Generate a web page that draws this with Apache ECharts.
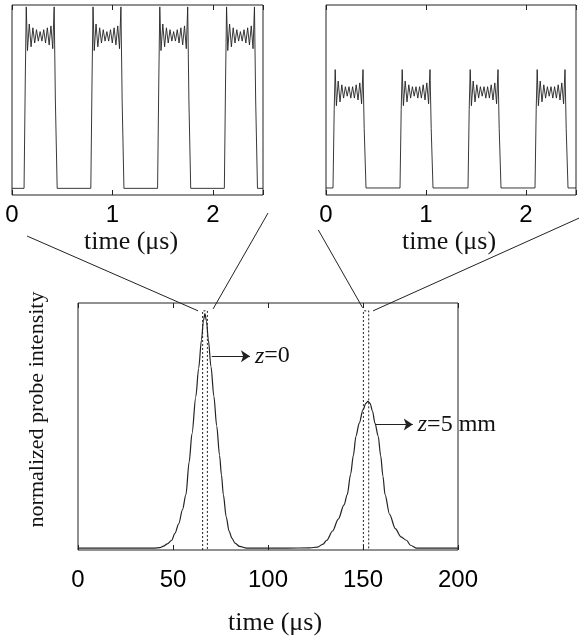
<!DOCTYPE html>
<html>
<head>
<meta charset="utf-8">
<script src="https://cdn.jsdelivr.net/npm/echarts@6/dist/echarts.min.js"></script>
<style>
  html, body { margin: 0; padding: 0; background: #fff; }
  #chart { width: 579px; height: 637px; }
</style>
</head>
<body>
<div id="chart"></div>
<script>
// main trace: probe intensity vs time (us)
var mainTime = [0, 40, 43, 45, 47, 49.3, 51, 53, 55, 56.8, 58.5, 60, 62, 63.5, 65, 66, 66.8, 67.6, 68.6, 70, 71.5, 73, 74.5, 75.5, 76.5, 78, 79.5, 81, 82.6, 85, 88.8,
  110, 122, 126, 129, 130.9, 134, 137, 140, 141.7, 143.5, 144.9, 146.3, 148, 150, 151.5, 152.6, 153.7, 155, 156.3, 158, 159.3, 160.5, 161.6, 164, 167, 170, 172.9, 175, 178.3, 200];
var mainIntensity = [0.008, 0.008, 0.010, 0.016, 0.026, 0.041, 0.07, 0.11, 0.17, 0.233, 0.37, 0.49, 0.645, 0.765, 0.885, 0.965, 0.995, 0.965, 0.885, 0.772, 0.648, 0.523, 0.399, 0.316, 0.233, 0.14, 0.08, 0.05, 0.029, 0.015, 0.008,
  0.008, 0.009, 0.012, 0.025, 0.041, 0.08, 0.13, 0.19, 0.233, 0.32, 0.397, 0.479, 0.534, 0.59, 0.618, 0.626, 0.618, 0.585, 0.534, 0.479, 0.397, 0.31, 0.233, 0.15, 0.09, 0.055, 0.041, 0.02, 0.008, 0.008];
// dashed zoom windows (us) and their top
var windowEdges = [[65.6, 68.1], [150.2, 153.0]];
var windowTop = 1.007;
var mainTicks = [0, 50, 100, 150, 200];

// insets: one pulse shape (offset in us from rise), repeated at the read rise times
var pulseOffsets = [0, 0.012, 0.022, 0.034, 0.052, 0.07, 0.088, 0.106, 0.124, 0.142, 0.16, 0.178, 0.196, 0.214, 0.232, 0.25, 0.268, 0.286, 0.3, 0.312, 0.33];
var pulseZ0 = [0.035, 0.6, 0.99, 0.76, 0.90, 0.78, 0.88, 0.80, 0.87, 0.81, 0.86, 0.81, 0.87, 0.80, 0.88, 0.79, 0.89, 0.77, 0.99, 0.5, 0.035];
var pulseZ5 = [0.037, 0.45, 0.66, 0.47, 0.60, 0.49, 0.58, 0.51, 0.57, 0.52, 0.57, 0.51, 0.57, 0.51, 0.58, 0.50, 0.59, 0.48, 0.66, 0.35, 0.037];
var risesZ0 = [0.12, 0.785, 1.45, 2.115];
var risesZ5 = [0.07, 0.74, 1.42, 2.09];
var baseZ0 = 0.035, baseZ5 = 0.037;

function pulseTrain(rises, shape, base) {
  var pts = [[0, base]];
  rises.forEach(function (r) {
    pulseOffsets.forEach(function (o, i) { pts.push([+(r + o).toFixed(4), shape[i]]); });
  });
  pts.push([2.5, base]);
  return pts;
}

var mainData = mainTime.map(function (t, i) { return [t, mainIntensity[i]]; });

var ink = '#222';
var sans = 'Liberation Sans';
var serif = 'Liberation Serif';

function bottomAxis(grid, min, max, interval, margin, gap, pad) {
  return {
    type: 'value', gridIndex: grid, min: min, max: max, interval: interval,
    position: 'bottom',
    axisLine: { show: false },
    axisTick: { inside: true, length: 5, lineStyle: { color: ink } },
    splitLine: { show: false },
    axisLabel: {
      color: '#000', fontFamily: sans, fontSize: 24, margin: margin,
      formatter: function (v) { return v % interval === 0 ? String(v) : ''; }
    },
    name: 'time (\u03bcs)', nameLocation: 'middle', nameGap: gap,
    nameTextStyle: { color: '#111', fontFamily: serif, fontSize: 26, padding: pad }
  };
}
function topAxis(grid, min, max, interval) {
  return {
    type: 'value', gridIndex: grid, min: min, max: max, interval: interval,
    position: 'top',
    axisLine: { show: false },
    axisTick: { inside: true, length: 5, lineStyle: { color: ink } },
    splitLine: { show: false },
    axisLabel: { show: false }
  };
}
function plainY(grid, min, max, name) {
  var ax = {
    type: 'value', gridIndex: grid, min: min, max: max,
    axisLine: { show: false }, axisTick: { show: false },
    axisLabel: { show: false }, splitLine: { show: false }
  };
  if (name) {
    ax.name = name;
    ax.nameLocation = 'middle';
    ax.nameGap = 30;
    ax.nameTextStyle = { color: '#111', fontFamily: serif, fontSize: 22, padding: [0, 0, 0, 34] };
  }
  return ax;
}

var frame = { show: true, borderColor: ink, borderWidth: 1, backgroundColor: 'transparent' };

var windowSeries = windowEdges.map(function (w) {
  return {
    type: 'line', xAxisIndex: 4, yAxisIndex: 2, symbol: 'none', silent: true,
    lineStyle: { color: ink, width: 1, type: [2, 2] },
    data: [[w[0], 0], [w[0], windowTop], [w[1], windowTop], [w[1], 0]]
  };
});

var annoRich = {
  i: { fontStyle: 'italic', fontFamily: serif, fontSize: 24, color: '#111' },
  n: { fontFamily: serif, fontSize: 24, color: '#111' }
};
function annoLabel(text) {
  return { show: true, position: 'end', distance: 5, formatter: text, rich: annoRich, fontSize: 24, fontFamily: serif };
}

var option = {
  animation: false,
  backgroundColor: '#fff',
  grid: [
    Object.assign({ left: 12, top: 5, width: 251, height: 190 }, frame),
    Object.assign({ left: 326, top: 5, width: 251, height: 190 }, frame),
    Object.assign({ left: 78, top: 303, width: 380, height: 254 }, frame)
  ],
  xAxis: [
    bottomAxis(0, 0, 2.5, 1, 8, 34, [0, 13, 0, 0]),
    topAxis(0, 0, 2.5, 1),
    bottomAxis(1, 0, 2.5, 1, 8, 34, [0, 4, 0, 0]),
    topAxis(1, 0, 2.5, 1),
    bottomAxis(2, mainTicks[0], mainTicks[mainTicks.length - 1], 50, 18, 60, [0, 0, 0, 14]),
    topAxis(2, mainTicks[0], mainTicks[mainTicks.length - 1], 50)
  ],
  yAxis: [
    plainY(0, 0, 1),
    plainY(1, 0, 1),
    plainY(2, 0, 1.04, 'normalized probe intensity')
  ],
  series: [
    {
      type: 'line', xAxisIndex: 0, yAxisIndex: 0, symbol: 'none', silent: true,
      lineStyle: { color: ink, width: 0.9 }, data: pulseTrain(risesZ0, pulseZ0, baseZ0)
    },
    {
      type: 'line', xAxisIndex: 2, yAxisIndex: 1, symbol: 'none', silent: true,
      lineStyle: { color: ink, width: 0.9 }, data: pulseTrain(risesZ5, pulseZ5, baseZ5)
    },
    {
      type: 'line', xAxisIndex: 4, yAxisIndex: 2, symbol: 'none', silent: true,
      smooth: 0.3, smoothMonotone: 'x',
      lineStyle: { color: ink, width: 1.2 }, data: mainData,
      markLine: {
        silent: true, symbol: ['none', 'arrow'], symbolSize: 9,
        lineStyle: { color: ink, width: 1.2, type: 'solid' },
        data: [
          [{ coord: [70.4, 0.816], label: annoLabel('{i|z}{n|=0}') }, { coord: [90.5, 0.816] }],
          [{ coord: [156.3, 0.528], label: annoLabel('{i|z}{n|=5 mm}') }, { coord: [176.2, 0.528] }]
        ]
      }
    }
  ].concat(windowSeries)
};

var chart = echarts.init(document.getElementById('chart'), null, { renderer: 'canvas' });
chart.setOption(option);

// lines joining each inset to its dashed window (grid index + data coords)
var connectors = [
  [0, [0.15, -0.216], 2, [63.2, 1.007]],
  [0, [2.55, -0.095], 2, [71.1, 1.015]],
  [1, [-0.077, -0.184], 2, [149.8, 1.02]],
  [1, [2.533, -0.121], 2, [155.3, 1.007]]
];
var lines = connectors.map(function (c) {
  var a = chart.convertToPixel({ gridIndex: c[0] }, c[1]);
  var b = chart.convertToPixel({ gridIndex: c[2] }, c[3]);
  return {
    type: 'line', silent: true,
    shape: { x1: a[0], y1: a[1], x2: b[0], y2: b[1] },
    style: { stroke: ink, lineWidth: 1 }
  };
});
chart.setOption({ graphic: lines });
</script>
</body>
</html>
